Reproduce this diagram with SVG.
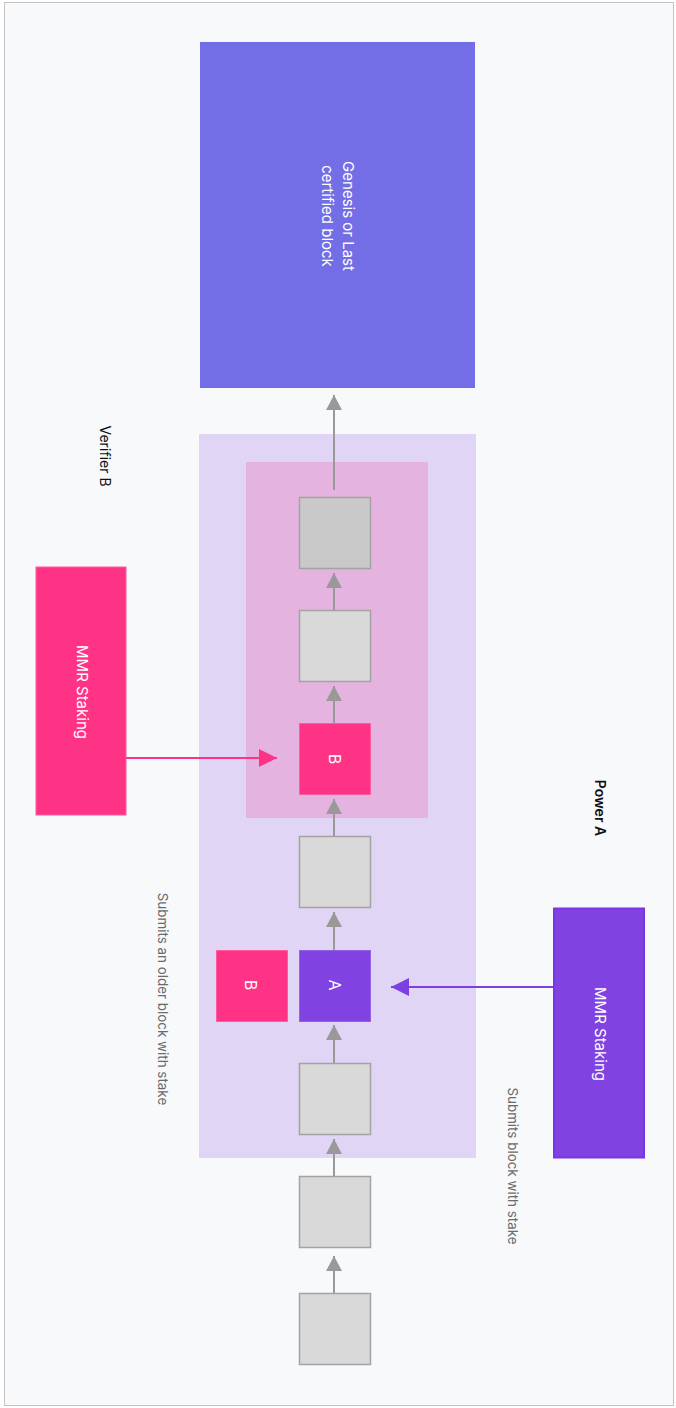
<svg xmlns="http://www.w3.org/2000/svg" width="676" height="1408" viewBox="0 0 676 1408">
<style>
text{font-family:Inter,"Open Sans","Liberation Sans",sans-serif;font-size:14px;text-anchor:middle;dominant-baseline:central}
.w{fill:#ffffff}
.big{font-size:15px}
.lt{font-size:16px}
.lbl{fill:#111111}
.sub{fill:#6b6b6b;font-size:13.4px}
.blk{fill:#d9d9d9;stroke:#a3a3a3;stroke-width:1.5}
.g{stroke:#999999;stroke-width:2;fill:none}
</style>
<defs>
<marker id="ag" markerUnits="userSpaceOnUse" markerWidth="16" markerHeight="16" refX="15" refY="8" orient="auto"><path d="M0,0 L15,8 L0,16 z" fill="#999999"/></marker>
<marker id="ap" markerUnits="userSpaceOnUse" markerWidth="18" markerHeight="18" refX="18" refY="9" orient="auto"><path d="M0,0 L18,9 L0,18 z" fill="#ff3385"/></marker>
<marker id="av" markerUnits="userSpaceOnUse" markerWidth="18" markerHeight="18" refX="18" refY="9" orient="auto"><path d="M0,0 L18,9 L0,18 z" fill="#7d3fe0"/></marker>
</defs>
<rect x="4.5" y="2.5" width="669" height="1403" fill="#f8f9fb" stroke="#c4c4c4" stroke-width="1"/>
<g id="region-outer"><rect x="199" y="434" width="277" height="724" fill="#e1d5f5"/></g>
<g id="region-inner"><rect x="246" y="462" width="182" height="356" fill="#e5b3e0"/></g>
<g id="genesis"><rect x="200" y="42" width="275" height="346" fill="#736ee6"/>
<text class="w big" transform="translate(348,216) rotate(90)">Genesis or Last</text>
<text class="w big" transform="translate(327,216) rotate(90)">certified block</text></g>
<g id="verifier-label"><text class="lbl" transform="translate(105,456) rotate(90)">Verifier B</text></g>
<g id="power-label"><text class="lbl" style="font-weight:600" transform="translate(600,808) rotate(90)">Power A</text></g>
<g id="blk1"><rect x="299.5" y="497.5" width="71" height="71" fill="#c9c9c9" stroke="#a3a3a3" stroke-width="1.5"/></g>
<g id="blk2"><rect class="blk" x="299.5" y="610.5" width="71" height="71"/></g>
<g id="blkB"><rect x="299.5" y="723.5" width="71" height="71" fill="#ff3385" stroke="#ff5c9e" stroke-width="1"/><text class="w lt" transform="translate(335,759) rotate(90)">B</text></g>
<g id="blk4"><rect class="blk" x="299.5" y="836.5" width="71" height="71"/></g>
<g id="blkA"><rect x="299.5" y="950.5" width="71" height="71" fill="#8042e0" stroke="#9460e6" stroke-width="1"/><text class="w lt" transform="translate(335,985) rotate(90)">A</text></g>
<g id="blkB2"><rect x="216.5" y="950.5" width="71" height="71" fill="#ff3385" stroke="#ff5c9e" stroke-width="1"/><text class="w lt" transform="translate(251,985) rotate(90)">B</text></g>
<g id="blk6"><rect class="blk" x="299.5" y="1063.5" width="71" height="71"/></g>
<g id="blk7"><rect class="blk" x="299.5" y="1176.5" width="71" height="71"/></g>
<g id="blk8"><rect class="blk" x="299.5" y="1293.5" width="71" height="71"/></g>
<g id="stake-B"><rect x="36" y="567" width="90" height="248" fill="#ff3385" stroke="#ff5c9e" stroke-width="1"/><text class="w big" transform="translate(82,692) rotate(90)">MMR Staking</text></g>
<g id="stake-A"><rect x="554" y="908.5" width="90" height="249" fill="#8042e0" stroke="#7a36e6" stroke-width="2"/><text class="w big" transform="translate(600,1034) rotate(90)">MMR Staking</text></g>
<g id="sub-B"><text class="sub" transform="translate(163,999) rotate(90)">Submits an older block with stake</text></g>
<g id="sub-A"><text class="sub" transform="translate(513,1166) rotate(90)">Submits block with stake</text></g>
<g id="connectors">
<line class="g" x1="334" y1="490" x2="334" y2="395" marker-end="url(#ag)"/>
<line class="g" x1="334" y1="610" x2="334" y2="573" marker-end="url(#ag)"/>
<line class="g" x1="334" y1="723" x2="334" y2="686" marker-end="url(#ag)"/>
<line class="g" x1="334" y1="836" x2="334" y2="799" marker-end="url(#ag)"/>
<line class="g" x1="334" y1="950" x2="334" y2="912" marker-end="url(#ag)"/>
<line class="g" x1="334" y1="1063" x2="334" y2="1025" marker-end="url(#ag)"/>
<line class="g" x1="334" y1="1176" x2="334" y2="1139" marker-end="url(#ag)"/>
<line class="g" x1="334" y1="1293" x2="334" y2="1256" marker-end="url(#ag)"/>
<line x1="126" y1="758" x2="277" y2="758" stroke="#ff3385" stroke-width="2" marker-end="url(#ap)"/>
<line x1="553" y1="987" x2="391" y2="987" stroke="#7d3fe0" stroke-width="2" marker-end="url(#av)"/>
</g>
</svg>
